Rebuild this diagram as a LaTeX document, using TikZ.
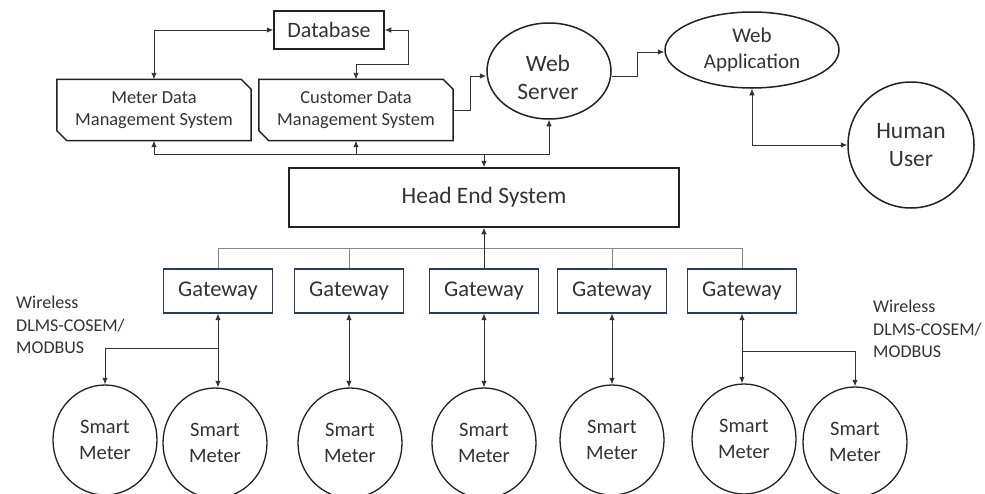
\documentclass[tikz,border=0pt]{standalone}
\usepackage{fontspec}
\setmainfont{Carlito}
\usetikzlibrary{arrows.meta,shapes.geometric,calc}

\definecolor{inkc}{HTML}{222222}
\definecolor{linec}{HTML}{333333}
\definecolor{busc}{HTML}{858585}
\definecolor{gwc}{HTML}{2F3C56}
\definecolor{textc}{HTML}{333333}

\tikzset{
  boxline/.style={draw=inkc, line width=1.5pt},
  plainbox/.style={rectangle, boxline, inner sep=0pt, align=center, text=textc},
  chamfer/.style={rectangle, inner sep=0pt, align=center, text=textc,
    minimum width=194pt, minimum height=61pt, font=\fontsize{18.4}{22}\selectfont},
  oval/.style={ellipse, boxline, inner sep=0pt, align=center, text=textc},
  txt/.style={inner sep=0pt, align=center, text=textc},
  gwbox/.style={rectangle, draw=gwc, line width=1.2pt, minimum width=109pt,
    minimum height=44pt, inner sep=0pt, text=textc, font=\fontsize{22.5}{27}\selectfont},
  meter/.style={ellipse, draw=inkc, line width=1.3pt, minimum width=104pt,
    minimum height=110pt, inner sep=0pt, align=center, text=textc,
    font=\fontsize{20.5}{26}\selectfont},
  conn/.style={draw=linec, line width=0.9pt},
  busline/.style={draw=busc, line width=0.9pt},
  note/.style={align=left, text=textc, font=\fontsize{18}{22.5}\selectfont,
    inner sep=0pt, anchor=west},
  >={Latex[length=6.5pt,width=5.5pt]},
}

% outline of a box with the north-east and south-west corners cut off
\newcommand{\cutbox}[1]{%
  \draw[boxline] (#1.north west) -- ([xshift=-10pt]#1.north east)
    -- ([yshift=-10pt]#1.north east) -- (#1.south east)
    -- ([xshift=10pt]#1.south west) -- ([yshift=10pt]#1.south west) -- cycle;}

\begin{document}
\begin{tikzpicture}[x=1pt,y=-1pt]
\useasboundingbox (0,0) rectangle (985,493);
\begin{scope}
\clip (0,0) rectangle (985,493);

% ---------- upper tier ----------
\node[plainbox, minimum width=110pt, minimum height=38pt,
      font=\fontsize{22}{26}\selectfont] (db) at (329,30) {Database};

\node[chamfer] (mdms) at (154,110) {Meter Data\\Management System};
\cutbox{mdms}
\node[chamfer] (cdms) at (356,110) {Customer Data\\Management System};
\cutbox{cdms}

\node[oval, minimum width=124pt, minimum height=96pt] (ws) at (549,71) {};
\node[txt, font=\fontsize{23.5}{28}\selectfont] (wsl) at (548,77) {Web\\Server};

\node[oval, minimum width=174pt, minimum height=76pt,
      font=\fontsize{21}{26}\selectfont] (wa) at (752,50) {Web\\Application};

\node[oval, minimum width=126pt, minimum height=126pt,
      font=\fontsize{23.5}{28}\selectfont] (hu) at (911,145) {Human\\User};

\node[plainbox, minimum width=390pt, minimum height=59pt,
      font=\fontsize{23.5}{28}\selectfont] (hes) at (484,197.5) {Head End System};

% ---------- gateways ----------
\node[gwbox] (gw1) at (218,291) {Gateway};
\node[gwbox] (gw2) at (349,291) {Gateway};
\node[gwbox] (gw3) at (484,291) {Gateway};
\node[gwbox] (gw4) at (612,291) {Gateway};
\node[gwbox] (gw5) at (742,291) {Gateway};

% ---------- smart meters ----------
\node[meter] (sm1) at (105,440) {Smart\\Meter};
\node[meter] (sm2) at (215,443) {Smart\\Meter};
\node[meter] (sm3) at (350,443) {Smart\\Meter};
\node[meter] (sm4) at (484,443) {Smart\\Meter};
\node[meter] (sm5) at (612,440) {Smart\\Meter};
\node[meter] (sm6) at (744,439) {Smart\\Meter};
\node[meter] (sm7) at (855,442) {Smart\\Meter};

\node[note] (wl) at (16,325) {Wireless\\DLMS-COSEM/\\MODBUS};
\node[note] (wr) at (873,329) {Wireless\\DLMS-COSEM/\\MODBUS};

% ---------- connectors: database and web side ----------
\draw[conn,<->] (db.west) -| (mdms.north);
\draw[conn,<->] (db.east) -- ++(24,0) |- ([yshift=15pt]cdms.north) -- (cdms.north);
\draw[conn,->] (cdms.east) -- ++(17,0) |- ([yshift=-5pt]ws.west);
\draw[conn,->] ([yshift=-5pt]ws.east) -- ++(26,0) |- ([yshift=-2pt]wa.west);
\draw[conn,<->] (wa.south) |- (hu.west);

% ---------- connectors: head end distribution row ----------
\coordinate (toprow) at (0,154);
\draw[conn,<->] (mdms.south) |- (toprow -| ws.south) -- (ws.south);
\draw[conn,<-] (cdms.south) -- (cdms.south |- toprow);
\draw[conn,->] (hes.north |- toprow) -- (hes.north);

% ---------- gateway bus ----------
\coordinate (busrow) at (0,248);
\draw[busline] (gw1.north) -- (gw1.north |- busrow) -| (gw5.north);
\draw[busline] (gw2.north) -- (gw2.north |- busrow);
\draw[busline] (gw4.north) -- (gw4.north |- busrow);
\draw[conn,->] (gw3.north) -- (hes.south);

% ---------- gateway to meter links ----------
\coordinate (brL) at (0,348);
\coordinate (brR) at (0,351);
\draw[conn,<->] (gw1.south) -- (gw1.south |- sm2.north);
\draw[conn,->] (gw1.south |- brL) -| (sm1.north);
\draw[conn,<->] (gw2.south) -- (gw2.south |- sm3.north);
\draw[conn,<->] (gw3.south) -- (gw3.south |- sm4.north);
\draw[conn,<->] (gw4.south) -- (gw4.south |- sm5.north);
\draw[conn,<->] (gw5.south) -- (gw5.south |- sm6.north);
\draw[conn,->] (gw5.south |- brR) -| (sm7.north);
\end{scope}
\end{tikzpicture}
\end{document}
